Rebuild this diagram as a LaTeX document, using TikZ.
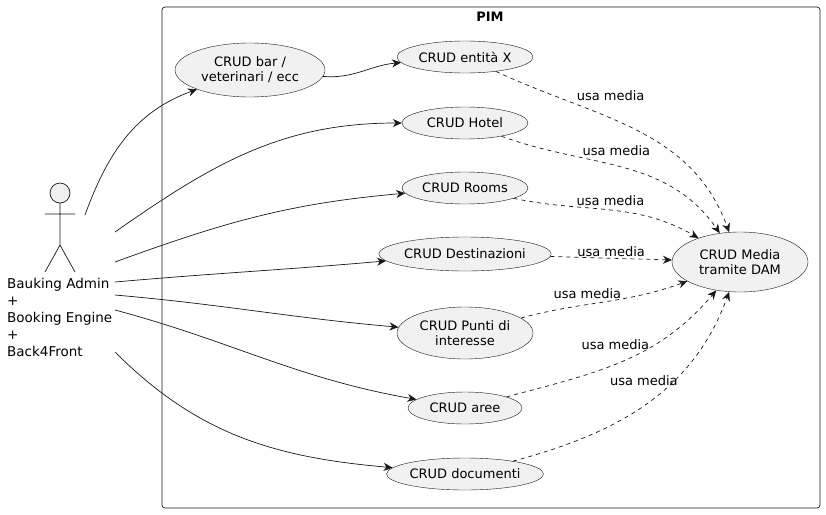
\documentclass[tikz,border=0pt]{standalone}
\usepackage{fontspec}
\setmainfont{DejaVu Sans}
\usetikzlibrary{shapes.geometric,arrows.meta}
\definecolor{ucfill}{HTML}{F1F1F1}
\definecolor{ucline}{HTML}{181818}
\tikzset{
	uc/.style={ellipse,draw=ucline,fill=ucfill,align=center,font=\fontsize{13}{15}\selectfont,inner sep=0pt},
	link/.style={draw=ucline,line width=0.7pt,arrows={-Stealth[length=9pt,width=8pt]}},
	uses/.style={link,dash pattern=on 4pt off 4pt},
	lbl/.style={font=\fontsize{13}{15}\selectfont,inner sep=1pt}
}
\begin{document}
\begin{tikzpicture}[x=1pt,y=-1pt]
	\useasboundingbox (0,0) rectangle (826,514);
	\draw[ucline,line width=0.7pt,rounded corners=3pt] (162,7) rectangle (820,508);
	\node[font=\bfseries\fontsize{13}{15}\selectfont] (pim) at (490,17) {PIM};

	% actor
	\draw[ucline,line width=0.7pt,fill=ucfill] (60,193) circle [radius=10];
	\draw[ucline,line width=0.7pt] (60,203) -- (60,245) (45,214) -- (75,214)
		(60,245) -- (45,272) (60,245) -- (75,272);
	\node[anchor=north west,align=left,font=\fontsize{13.5}{17}\selectfont,inner sep=0pt]
		(admin) at (7,278) {Bauking Admin\\+\\Booking Engine\\+\\Back4Front};

	% use cases
	\node[uc,minimum width=150,minimum height=54] (bar) at (250,70) {CRUD bar /\\veterinari / ecc};
	\node[uc,minimum width=136,minimum height=32] (entita) at (465,57) {CRUD entità X};
	\node[uc,minimum width=126,minimum height=32] (hotel) at (465,123) {CRUD Hotel};
	\node[uc,minimum width=126,minimum height=32] (rooms) at (465,188) {CRUD Rooms};
	\node[uc,minimum width=160,minimum height=34] (dest) at (465,254) {CRUD Destinazioni};
	\node[uc,minimum width=136,minimum height=52] (punti) at (465,333) {CRUD Punti di\\interesse};
	\node[uc,minimum width=114,minimum height=32] (aree) at (465,408) {CRUD aree};
	\node[uc,minimum width=154,minimum height=32] (doc) at (465,474) {CRUD documenti};
	\node[uc,minimum width=136,minimum height=60] (media) at (740,262) {CRUD Media\\tramite DAM};

	\coordinate (a1) at (85,215);
	\coordinate (a2) at (115,232);
	\coordinate (a3) at (115,262);
	\coordinate (a4) at (115,282);
	\coordinate (a5) at (115,295);
	\coordinate (a6) at (115,310);
	\coordinate (a7) at (115,352);

	\draw[link] (a1) to [out=70,in=200] (bar);
	\draw[link] (a2) to [out=35,in=180] (hotel);
	\draw[link] (a3) to [out=20,in=185] (rooms);
	\draw[link] (a4) to [out=5,in=185] (dest);
	\draw[link] (a5) to [out=-5,in=175] (punti);
	\draw[link] (a6) to [out=-15,in=170] (aree);
	\draw[link] (a7) to [out=-45,in=175] (doc);
	\draw[link] (bar) to [out=-5,in=185] (entita);

	\draw[uses] (entita) to [out=-25,in=110] node[lbl,pos=0.25,anchor=south west,xshift=6pt] {usa media} (media.110);
	\draw[uses] (hotel) to [out=-20,in=125] node[lbl,pos=0.3,anchor=south west,xshift=4pt] {usa media} (media.125);
	\draw[uses] (rooms) to [out=-12,in=150] node[lbl,pos=0.3,anchor=south west,xshift=2pt] {usa media} (media.150);
	\draw[uses] (dest) -- node[lbl,above] {usa media} (media);
	\draw[uses] (punti) to [out=15,in=200] node[lbl,pos=0.55,anchor=south east,xshift=10pt] {usa media} (media.200);
	\draw[uses] (aree) to [out=15,in=230] node[lbl,pos=0.6,anchor=south east,xshift=8pt] {usa media} (media.230);
	\draw[uses] (doc) to [out=15,in=250] node[lbl,pos=0.6,anchor=south east,xshift=12pt] {usa media} (media.250);
\end{tikzpicture}
\end{document}
